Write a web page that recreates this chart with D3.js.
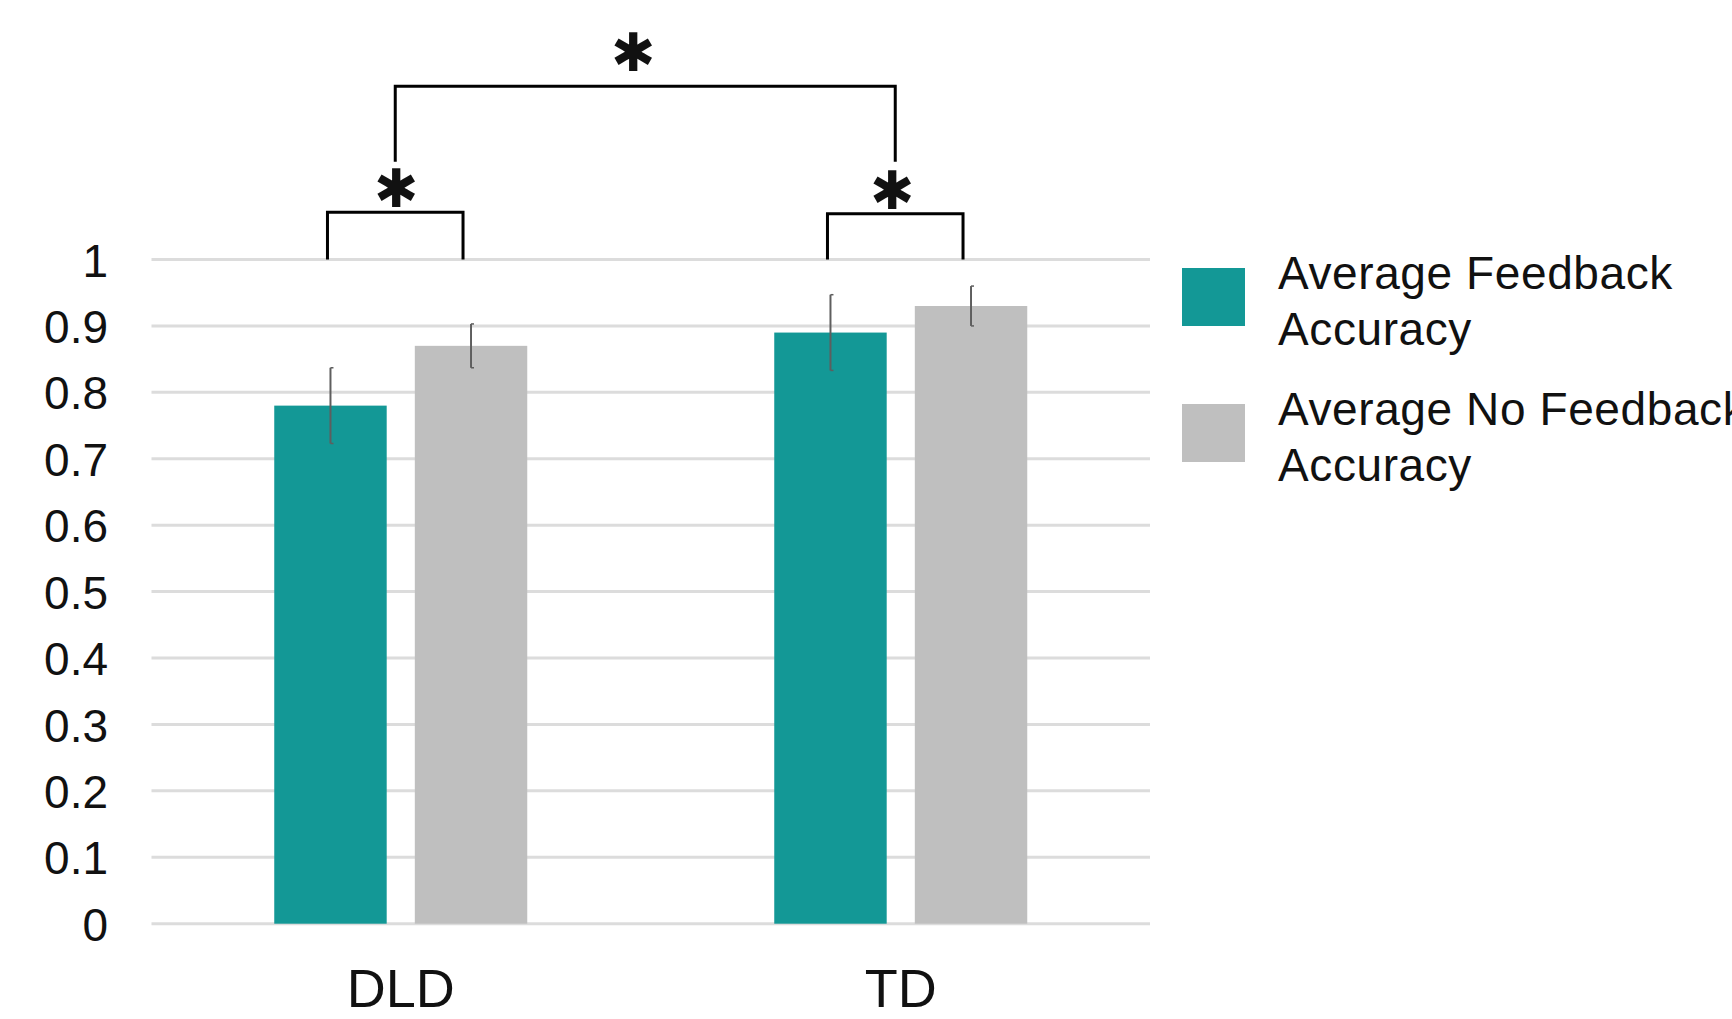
<!DOCTYPE html>
<html>
<head>
<meta charset="utf-8">
<script src="https://cdn.jsdelivr.net/npm/d3@7"></script>
<style>
  html, body { margin: 0; padding: 0; background: #ffffff; }
  svg { display: block; }
  text { font-family: "Liberation Sans", Arial, sans-serif; fill: #111; }
</style>
</head>
<body>
<svg id="chart" width="1732" height="1019"></svg>
<script>
// Groups, series and values
const groups = ["DLD", "TD"];
const seriesNames = ["Average Feedback Accuracy", "Average No Feedback Accuracy"];
const legendLines = [["Average Feedback", "Accuracy"], ["Average No Feedback", "Accuracy"]];
const feedbackMeans = [0.78, 0.89];
const noFeedbackMeans = [0.87, 0.93];
const feedbackErrors = [0.057, 0.057];
const noFeedbackErrors = [0.033, 0.03];
const yTicks = [0, 0.1, 0.2, 0.3, 0.4, 0.5, 0.6, 0.7, 0.8, 0.9, 1];
const seriesColors = ["#139896", "#bfbfbf"];

// Significance markers: within-group pairs and the between-group comparison
const pairBracketTop = [1.071, 1.069];
const groupBracketTop = 1.261;
const groupBracketLeg = 1.147;
const starText = "\u2731";

const svg = d3.select("#chart");

const plot = { left: 151.5, right: 1150, top: 259.5, bottom: 923.7 };

const y = d3.scaleLinear().domain([0, 1]).range([plot.bottom, plot.top]);

const x0 = d3.scaleBand()
  .domain(groups)
  .range([plot.left, plot.right])
  .paddingInner(0.494)
  .paddingOuter(0.2455);

const x1 = d3.scaleBand()
  .domain(seriesNames)
  .range([0, x0.bandwidth()])
  .paddingInner(0.2)
  .paddingOuter(0);

// Gridlines
svg.append("g")
  .selectAll("line")
  .data(yTicks)
  .join("line")
  .attr("x1", plot.left)
  .attr("x2", plot.right)
  .attr("y1", d => y(d))
  .attr("y2", d => y(d))
  .attr("stroke", "#dcdcdc")
  .attr("stroke-width", 3);

// Y axis labels
const yAxis = d3.axisLeft(y).tickValues(yTicks).tickSize(0).tickPadding(0)
  .tickFormat(d => d3.format("")(+d.toFixed(1)));
const yg = svg.append("g").attr("transform", `translate(108,0)`).call(yAxis);
yg.select(".domain").remove();
yg.selectAll("text")
  .attr("font-size", 46)
  .attr("font-family", "Liberation Sans, Arial, sans-serif")
  .attr("fill", "#111")
  .attr("dy", "0.36em");

// Bars
const rows = groups.map((g, i) => ({
  group: g,
  values: [
    { s: seriesNames[0], v: feedbackMeans[i], e: feedbackErrors[i], c: seriesColors[0] },
    { s: seriesNames[1], v: noFeedbackMeans[i], e: noFeedbackErrors[i], c: seriesColors[1] }
  ]
}));

const gGroups = svg.append("g")
  .selectAll("g")
  .data(rows)
  .join("g")
  .attr("transform", d => `translate(${x0(d.group)},0)`);

gGroups.selectAll("rect")
  .data(d => d.values)
  .join("rect")
  .attr("x", d => x1(d.s))
  .attr("width", x1.bandwidth())
  .attr("y", d => y(d.v))
  .attr("height", d => y(0) - y(d.v))
  .attr("fill", d => d.c);

// Error bars
const eb = gGroups.selectAll("g.err")
  .data(d => d.values)
  .join("g")
  .attr("class", "err")
  .attr("transform", d => `translate(${x1(d.s) + x1.bandwidth() / 2},0)`);

eb.append("line")
  .attr("x1", 0).attr("x2", 0)
  .attr("y1", d => y(d.v + d.e))
  .attr("y2", d => y(d.v - d.e))
  .attr("stroke", "#5e5e5e")
  .attr("stroke-width", 2);
eb.append("line")
  .attr("x1", 0).attr("x2", 3)
  .attr("y1", d => y(d.v + d.e)).attr("y2", d => y(d.v + d.e))
  .attr("stroke", "#5e5e5e").attr("stroke-width", 1.5);
eb.append("line")
  .attr("x1", 0).attr("x2", 3)
  .attr("y1", d => y(d.v - d.e)).attr("y2", d => y(d.v - d.e))
  .attr("stroke", "#5e5e5e").attr("stroke-width", 1.5);

// X labels
svg.append("g")
  .selectAll("text")
  .data(groups)
  .join("text")
  .attr("x", d => x0(d) + x0.bandwidth() / 2)
  .attr("y", 1007)
  .attr("text-anchor", "middle")
  .attr("font-size", 54)
  .text(d => d);

// Significance brackets
const brackets = svg.append("g")
  .attr("fill", "none")
  .attr("stroke", "#000")
  .attr("stroke-width", 3)
  .attr("stroke-linejoin", "miter");

const pairSpans = groups.map((g, i) => {
  const xa = x0(g) + x1(seriesNames[0]) + x1.bandwidth() / 2 - 3;
  const xb = x0(g) + x1(seriesNames[1]) + x1.bandwidth() / 2 - 8;
  return { xa, xb, top: pairBracketTop[i], mid: (xa + xb) / 2 };
});

brackets.selectAll("path.pair")
  .data(pairSpans)
  .join("path")
  .attr("class", "pair")
  .attr("d", d => `M${d.xa},${y(1)} V${y(d.top)} H${d.xb} V${y(1)}`);

brackets.append("path")
  .attr("d", `M${pairSpans[0].mid},${y(groupBracketLeg)} V${y(groupBracketTop)} H${pairSpans[1].mid} V${y(groupBracketLeg)}`);

// Stars: size the glyph by its ink box so it sits centred over each bracket
const starFont = "DejaVu Sans";
const starInkHeight = 39;
const ctx = document.createElement("canvas").getContext("2d");
ctx.font = `100px "${starFont}"`;
const m = ctx.measureText(starText);
const inkH100 = (m.actualBoundingBoxAscent + m.actualBoundingBoxDescent) || 60;
const starSize = 100 * starInkHeight / inkH100;
ctx.font = `${starSize}px "${starFont}"`;
const ms = ctx.measureText(starText);
const baselineShift = (ms.actualBoundingBoxAscent - ms.actualBoundingBoxDescent) / 2;
const inkShiftX = (ms.actualBoundingBoxRight - ms.actualBoundingBoxLeft) / 2;

const starData = [
  { x: 396, yc: 187 },
  { x: 892, yc: 189 },
  { x: 633, yc: 51 }
];
svg.append("g")
  .selectAll("text")
  .data(starData)
  .join("text")
  .attr("x", d => d.x - inkShiftX)
  .attr("y", d => d.yc + baselineShift)
  .attr("font-family", starFont)
  .attr("font-size", starSize)
  .attr("fill", "#111")
  .text(starText);

// Legend
const legend = svg.append("g").attr("transform", "translate(1182,0)");
const legendItems = legend.selectAll("g")
  .data(seriesNames)
  .join("g")
  .attr("transform", (d, i) => `translate(0,${268 + i * 136})`);
legendItems.append("rect")
  .attr("width", 63)
  .attr("height", 58)
  .attr("fill", (d, i) => seriesColors[i]);
legendItems.append("text")
  .attr("x", 96)
  .attr("y", 21)
  .attr("font-size", 46)
  .attr("letter-spacing", 0.6)
  .selectAll("tspan")
  .data((d, i) => legendLines[i])
  .join("tspan")
  .attr("x", 96)
  .attr("dy", (d, j) => j === 0 ? 0 : 56)
  .text(d => d);
</script>
</body>
</html>
